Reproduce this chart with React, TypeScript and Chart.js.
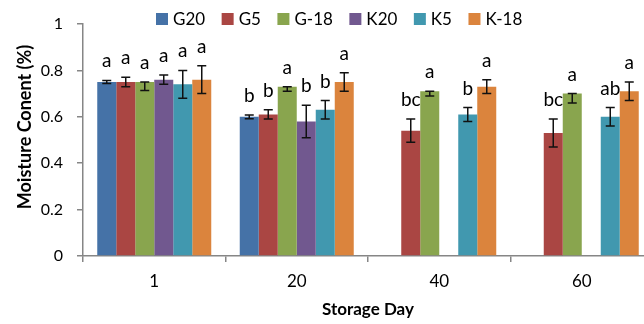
import React, { useEffect, useRef } from "react";
import { Chart, registerables } from "chart.js";

Chart.register(...registerables);

const categories = ["1", "20", "40", "60"];
const seriesNames = ["G20", "G5", "G-18", "K20", "K5", "K-18"];
const seriesColors = ["#4572A7", "#AA4643", "#89A54E", "#71588F", "#4198AF", "#DB843D"];

const G20 = [0.75, 0.6, null, null];
const G5 = [0.75, 0.61, 0.54, 0.53];
const G18 = [0.75, 0.73, 0.71, 0.7];
const K20 = [0.76, 0.58, null, null];
const K5 = [0.74, 0.63, 0.61, 0.6];
const K18 = [0.76, 0.75, 0.73, 0.71];

const errG20 = [0.007, 0.008, null, null];
const errG5 = [0.02, 0.02, 0.05, 0.06];
const errG18Up = [0, 0, 0, 0];
const errG18Down = [0.037, 0.02, 0.02, 0.04];
const errK20 = [0.02, 0.07, null, null];
const errK5 = [0.06, 0.04, 0.03, 0.04];
const errK18 = [0.06, 0.04, 0.03, 0.04];

const lettersG20 = ["a", "b", null, null];
const lettersG5 = ["a", "b", "bc", "bc"];
const lettersG18 = ["a", "a", "a", "a"];
const lettersK20 = ["a", "b", null, null];
const lettersK5 = ["a", "b", "b", "ab"];
const lettersK18 = ["a", "a", "a", "a"];

const yTicks = [0, 0.2, 0.4, 0.6, 0.8, 1];
const yTitle = "Moisture Conent (%)";
const xTitle = "Storage Day";

const seriesValues = [G20, G5, G18, K20, K5, K18];
const seriesErrUp = [errG20, errG5, errG18Up, errK20, errK5, errK18];
const seriesErrDown = [errG20, errG5, errG18Down, errK20, errK5, errK18];
const seriesLetters = [lettersG20, lettersG5, lettersG18, lettersK20, lettersK5, lettersK18];

const FONT = "Lato, 'Open Sans', sans-serif";

const overlayPlugin = {
  id: "overlay",
  afterDatasetsDraw(chart: any) {
    const ctx = chart.ctx;
    const y = chart.scales.y;
    ctx.save();
    chart.data.datasets.forEach((ds: any, i: number) => {
      const meta = chart.getDatasetMeta(i);
      meta.data.forEach((el: any, j: number) => {
        const v = seriesValues[i][j];
        if (v === null || v === undefined) return;
        const up = seriesErrUp[i][j] || 0;
        const down = seriesErrDown[i][j] || 0;
        const x = el.x;
        const yTop = y.getPixelForValue(v + up);
        const yBot = y.getPixelForValue(v - down);
        ctx.strokeStyle = "#111";
        ctx.lineWidth = 1.5;
        ctx.beginPath();
        ctx.moveTo(x, yTop);
        ctx.lineTo(x, yBot);
        ctx.moveTo(x - 4.5, yTop);
        ctx.lineTo(x + 4.5, yTop);
        ctx.moveTo(x - 4.5, yBot);
        ctx.lineTo(x + 4.5, yBot);
        ctx.stroke();
        const letter = seriesLetters[i][j];
        if (letter) {
          ctx.fillStyle = "#000";
          ctx.font = `19px ${FONT}`;
          ctx.textAlign = "center";
          ctx.textBaseline = "alphabetic";
          ctx.fillText(letter, x, yTop - 13);
        }
      });
    });
    ctx.restore();
  },
  afterDraw(chart: any) {
    const ctx = chart.ctx;
    ctx.save();
    // legend
    ctx.font = `17px ${FONT}`;
    ctx.textBaseline = "middle";
    ctx.textAlign = "left";
    let x = 156;
    const cy = 19;
    chart.data.datasets.forEach((ds: any) => {
      ctx.fillStyle = ds.backgroundColor;
      ctx.fillRect(x, cy - 6, 12, 12);
      ctx.fillStyle = "#000";
      ctx.fillText(ds.label, x + 17, cy + 1);
      x += 17 + ctx.measureText(ds.label).width + 16.5;
    });
    // y title
    ctx.translate(25, 127);
    ctx.rotate(-Math.PI / 2);
    ctx.font = `bold 18px ${FONT}`;
    ctx.textAlign = "center";
    ctx.textBaseline = "middle";
    ctx.fillText(yTitle, 0, 0);
    ctx.restore();
  },
};

export default function App() {
  const ref = useRef<HTMLCanvasElement>(null);
  useEffect(() => {
    if (!ref.current) return;
    const axisColor = "#868686";
    const chart = new Chart(ref.current, {
      type: "bar",
      data: {
        labels: categories,
        datasets: seriesNames.map((name, i) => ({
          label: name,
          data: seriesValues[i],
          backgroundColor: seriesColors[i],
          borderWidth: 0,
          categoryPercentage: 0.8,
          barPercentage: 1.0,
        })),
      },
      options: {
        responsive: false,
        animation: false,
        layout: { padding: { top: 24, left: 0, right: 0, bottom: 0 } },
        plugins: { legend: { display: false }, tooltip: { enabled: false } },
        scales: {
          x: {
            afterFit: (s: any) => {
              s.height = 68;
            },
            grid: {
              offset: true,
              drawOnChartArea: false,
              drawTicks: true,
              tickLength: 6,
              color: axisColor,
              lineWidth: 1.5,
            },
            border: { display: true, color: axisColor, width: 1.5 },
            ticks: { color: "#000", font: { family: FONT, size: 17 }, padding: 9 },
            title: {
              display: true,
              text: xTitle,
              color: "#000",
              font: { family: FONT, size: 17, weight: "bold" },
              padding: { top: 0, bottom: 4 },
            },
          },
          y: {
            min: 0,
            max: 1,
            afterFit: (s: any) => {
              s.width = 83;
            },
            afterBuildTicks: (s: any) => {
              s.ticks = yTicks.map((v) => ({ value: v }));
            },
            grid: {
              drawOnChartArea: false,
              drawTicks: true,
              tickLength: 6,
              color: axisColor,
              lineWidth: 1.5,
            },
            border: { display: true, color: axisColor, width: 1.5 },
            ticks: {
              color: "#000",
              font: { family: FONT, size: 16 },
              padding: 14,
              callback: (v: any) => String(Math.round(Number(v) * 10) / 10),
            },
          },
        },
      },
      plugins: [overlayPlugin],
    });
    return () => chart.destroy();
  }, []);

  return (
    <div
      style={{
        position: "absolute",
        left: 0,
        top: 0,
        width: 644,
        height: 324,
        overflow: "hidden",
        background: "#fff",
      }}
    >
      <canvas ref={ref} width={653} height={324} style={{ width: 653, height: 324, display: "block" }} />
    </div>
  );
}
